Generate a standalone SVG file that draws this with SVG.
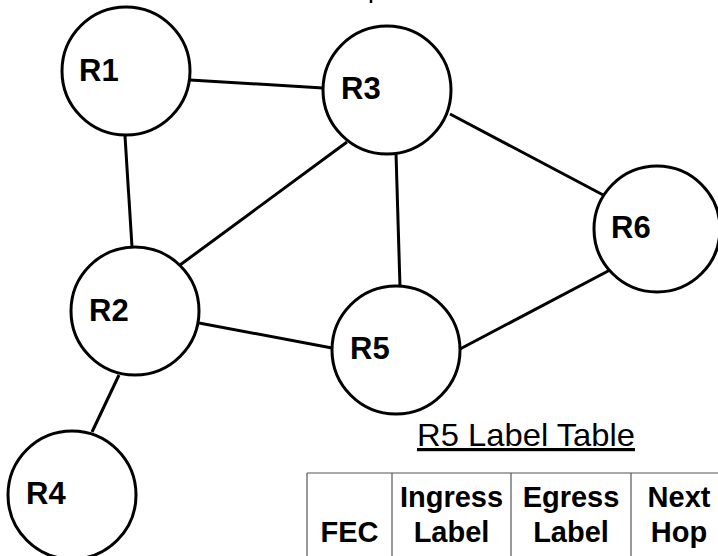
<svg xmlns="http://www.w3.org/2000/svg" width="718" height="556" viewBox="0 0 718 556">
<style>
.node circle{fill:#fff;stroke:#000;stroke-width:3}
.node text{font-family:"Liberation Sans",Arial,sans-serif;font-weight:bold;font-size:31px;fill:#000}
.conn line{stroke:#000;stroke-width:3}
.grid line{stroke:#555;stroke-width:1.2}
.hdr{font-family:"Liberation Sans",Arial,sans-serif;font-weight:bold;font-size:29px;fill:#000;text-anchor:middle}
.title{font-family:"Liberation Sans",Arial,sans-serif;font-size:32px;fill:#000;text-decoration:underline}
</style>
<rect width="718" height="556" fill="#fff"/>
<line x1="371" y1="0" x2="371" y2="3" stroke="#000" stroke-width="2.5"/>
<g id="connectors" class="conn">
<line x1="190" y1="80" x2="323" y2="88"/>
<line x1="125" y1="136" x2="132" y2="247"/>
<line x1="180" y1="265" x2="347" y2="142"/>
<line x1="450" y1="114" x2="607" y2="197"/>
<line x1="396" y1="153" x2="400" y2="287"/>
<line x1="199" y1="323" x2="332" y2="348"/>
<line x1="460" y1="349" x2="610" y2="270"/>
<line x1="119" y1="375" x2="92" y2="432"/>
</g>
<g id="R1" class="node"><circle cx="126" cy="71" r="64"/><text x="79" y="81">R1</text></g>
<g id="R3" class="node"><circle cx="387" cy="90" r="64"/><text x="341" y="99">R3</text></g>
<g id="R6" class="node"><circle cx="657" cy="229" r="63"/><text x="611" y="238">R6</text></g>
<g id="R2" class="node"><circle cx="135" cy="311" r="64"/><text x="89" y="321">R2</text></g>
<g id="R5" class="node"><circle cx="396" cy="350" r="64"/><text x="350" y="359">R5</text></g>
<g id="R4" class="node"><circle cx="72" cy="495" r="64"/><text x="26" y="504">R4</text></g>
<g id="table">
<text class="title" x="417" y="446" textLength="218" lengthAdjust="spacingAndGlyphs">R5 Label Table</text>
<g class="grid">
<line x1="307" y1="473" x2="718" y2="473"/>
<line x1="307" y1="473" x2="307" y2="556"/>
<line x1="392" y1="473" x2="392" y2="556"/>
<line x1="511" y1="473" x2="511" y2="556"/>
<line x1="631" y1="473" x2="631" y2="556"/>
</g>
<text class="hdr" x="349.5" y="542">FEC</text>
<text class="hdr" x="451.5" y="507">Ingress</text>
<text class="hdr" x="451.5" y="542">Label</text>
<text class="hdr" x="571" y="507">Egress</text>
<text class="hdr" x="571" y="542">Label</text>
<text class="hdr" x="679" y="507">Next</text>
<text class="hdr" x="679" y="542">Hop</text>
</g>
</svg>
